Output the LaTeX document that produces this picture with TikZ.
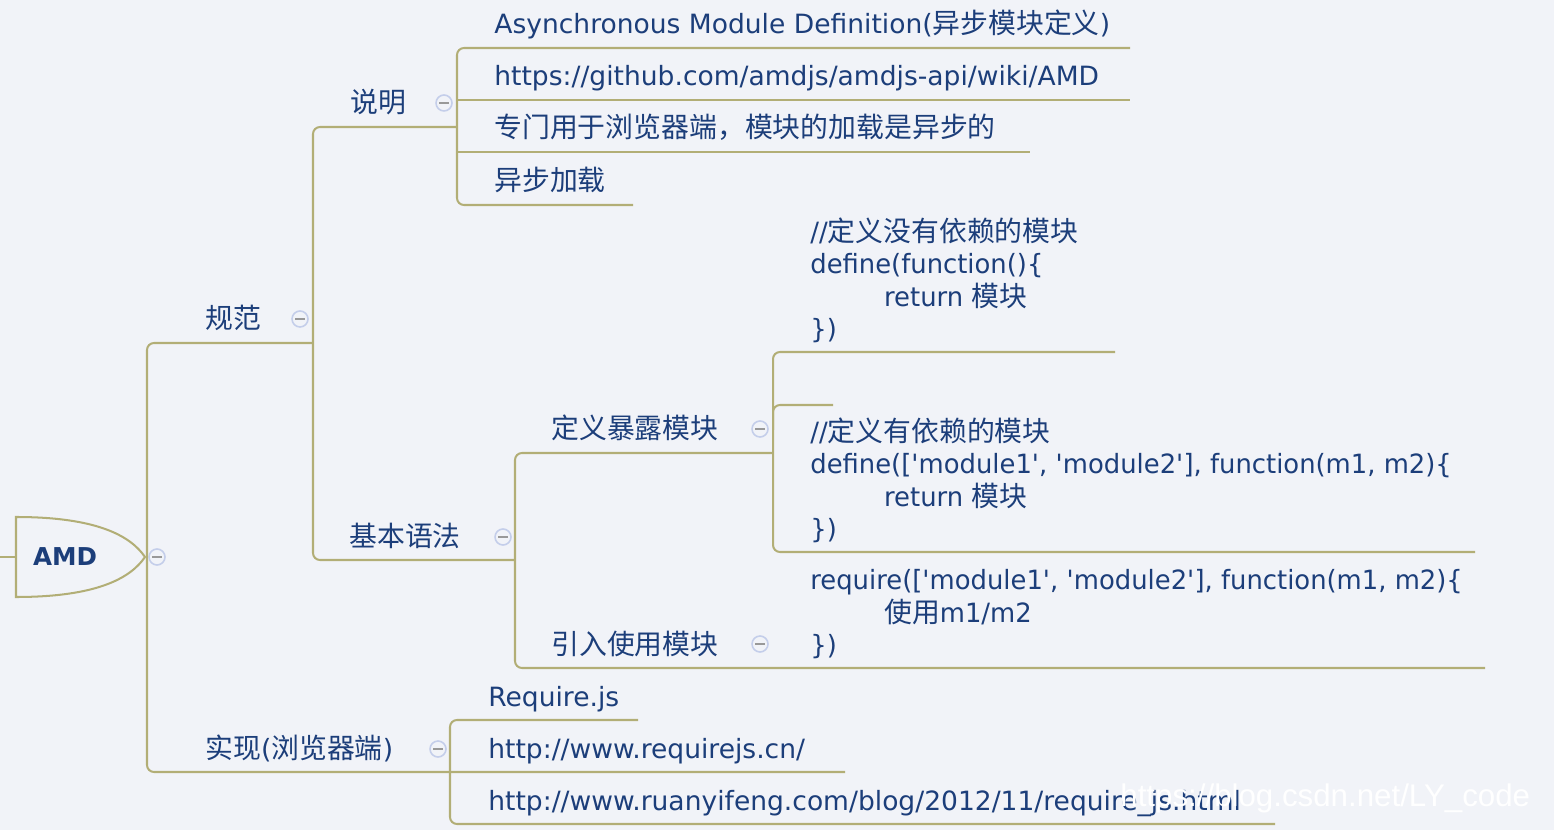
\documentclass[tikz,border=0pt]{standalone}
\usepackage{fontspec}
\setmainfont{DejaVu Sans}
\newfontfamily\zhfont[Scale=1.05]{Noto Sans CJK SC}
\newfontfamily\codefont[FakeStretch=0.974]{DejaVu Sans}
\newfontfamily\markfont{Liberation Sans}
\newcommand{\zh}[1]{{\zhfont #1}}
\newcommand{\sq}{\textquotesingle}
\definecolor{bgcol}{RGB}{241,243,248}
\definecolor{inkcol}{RGB}{28,62,122}
\definecolor{linecol}{RGB}{178,174,118}
\definecolor{foldcol}{RGB}{196,206,234}
\tikzset{
  branch/.style={draw=linecol,line width=1.15pt,rounded corners=4pt},
  topic/.style={inner sep=0pt,anchor=base west,text=inkcol},
  codebox/.style={topic,align=left,anchor=south west,text depth=0pt,
    font=\fontsize{15.1pt}{18.4pt}\codefont},
  fold/.style={circle,draw=foldcol,fill=bgcol,line width=0.9pt,
    minimum size=0.32cm,inner sep=0pt,
    path picture={\draw[gray!80,line width=0.8pt]
      ([xshift=-2.6pt]path picture bounding box.center) --
      ([xshift=2.6pt]path picture bounding box.center);}}
}
\begin{document}
\begin{tikzpicture}[x=0.02cm,y=-0.02cm,
    font=\fontsize{15.1pt}{18.4pt}\selectfont]
  \fill[bgcol] (0,0) rectangle (1554,830);
  \useasboundingbox (0,0) rectangle (1554,830);

  % joints of the branches
  \coordinate (rootA) at (147,343);
  \coordinate (rootB) at (147,772);
  \coordinate (gfA) at (313,127);
  \coordinate (gfB) at (313,560);
  \coordinate (smA) at (457,48);
  \coordinate (smB) at (457,205);
  \coordinate (yfA) at (515,453);
  \coordinate (yfB) at (515,668);
  \coordinate (dyA) at (773,352);
  \coordinate (dyB) at (773,552);
  \coordinate (sxA) at (450,720);
  \coordinate (sxB) at (450,824);

  \draw[branch] (gfA |- rootA) -- (rootA) -- (rootB) -- (845,772);
  \draw[branch] (smA |- gfA) -- (gfA) -- (gfB) -- (yfA |- gfB);
  \draw[branch] (1130,48) -- (smA) -- (smB) -- (633,205);
  \draw[branch] (smA |- 0,100) -- (1130,100);
  \draw[branch] (smA |- 0,152) -- (1030,152);
  \draw[branch] (dyA |- yfA) -- (yfA) -- (yfB) -- (1485,668);
  \draw[branch] (1115,352) -- (dyA) -- (dyB) -- (1475,552);
  \draw[branch] (833,405) -- (dyA |- 0,405) -- (dyA |- 0,430);
  \draw[branch] (638,720) -- (sxA) -- (sxB) -- (1275,824);

  % root
  \draw[branch] (0,557) -- (16,557);
  \draw[branch,rounded corners=0pt,fill=bgcol] (16,517)
     .. controls (95,517) and (130,535) .. (145,557)
     .. controls (130,579) and (95,597) .. (16,597) -- cycle;
  \node[text=inkcol,font=\fontsize{14pt}{16pt}\selectfont\bfseries]
     (amd) at (65,557) {AMD};

  % main topics
  \node[topic] (guifan) at (205,329) {\zh{规范}};
  \node[topic] (shuoming) at (350,113) {\zh{说明}};
  \node[topic] (yufa) at (349,546) {\zh{基本语法}};
  \node[topic] (dingyi) at (551,439) {\zh{定义暴露模块}};
  \node[topic] (yinru) at (551,654) {\zh{引入使用模块}};
  \node[topic] (shixian) at (205,758) {\zh{实现}(\zh{浏览器端})};

  % fold marks
  \node[fold] (fAmd) at (157,557) {};
  \node[fold] (fGuifan) at (300,319) {};
  \node[fold] (fShuoming) at (444,103) {};
  \node[fold] (fYufa) at (503,537) {};
  \node[fold] (fDingyi) at (760,429) {};
  \node[fold] (fYinru) at (760,644) {};
  \node[fold] (fShixian) at (438,749) {};

  % leaves
  \node[topic] (amdName) at (494,34)
    {Asynchronous Module Definition(\zh{异步模块定义})};
  \node[topic] (amdWiki) at (494,86)
    {https://github.com/amdjs/amdjs-api/wiki/AMD};
  \node[topic] (amdUse) at (494,138)
    {\zh{专门用于浏览器端，模块的加载是异步的}};
  \node[topic] (amdAsync) at (494,191) {\zh{异步加载}};

  \node[codebox] (codeNoDep) at (810,339)
    {//\zh{定义没有依赖的模块}\\
     define(function()\{\\
     \hspace*{42pt}return \zh{模块}\\
     \})};
  \node[codebox] (codeDep) at (810,539)
    {//\zh{定义有依赖的模块}\\
     define([\sq module1\sq, \sq module2\sq], function(m1, m2)\{\\
     \hspace*{42pt}return \zh{模块}\\
     \})};
  \node[codebox] (codeReq) at (810,655)
    {require([\sq module1\sq, \sq module2\sq], function(m1, m2)\{\\
     \hspace*{42pt}\zh{使用}m1/m2\\
     \})};

  \node[topic] (reqName) at (488,706) {Require.js};
  \node[topic] (reqSite) at (488,758) {http://www.requirejs.cn/};
  \node[topic] (reqBlog) at (488,810)
    {http://www.ruanyifeng.com/blog/2012/11/require\_js.html};

  \node[anchor=base west,inner sep=0pt,text=white,
    font=\markfont\fontsize{17.8pt}{20pt}\selectfont]
    (mark) at (1120,806) {https://blog.csdn.net/LY\_code};
\end{tikzpicture}
\end{document}
